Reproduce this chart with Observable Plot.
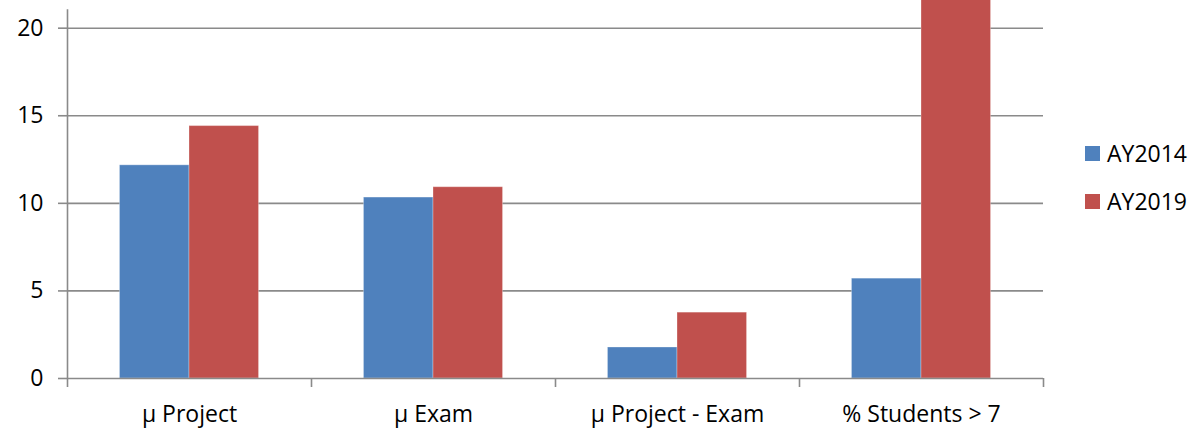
<!DOCTYPE html>
<html>
<head>
<meta charset="utf-8">
<script src="https://cdn.jsdelivr.net/npm/d3@7"></script>
<script src="https://cdn.jsdelivr.net/npm/@observablehq/plot@0.6"></script>
<style>
  body { margin: 0; background: #fff; font-family: "Open Sans", sans-serif; }
  #wrap { position: relative; width: 1191px; height: 429px; overflow: hidden; }
  #legend { position: absolute; left: 1085px; top: 139px; }
  .item { display: flex; align-items: center; height: 28px; margin-bottom: 20px; font-size: 23px; color: #000; }
  .swatch { width: 15px; height: 15px; margin-right: 7px; }
</style>
</head>
<body>
<div id="wrap">
  <div id="chart"></div>
  <div id="legend"></div>
</div>
<script>
// Categories and the two academic-year series
const categories = ["μ Project", "μ Exam", "μ Project - Exam", "% Students > 7"];
const seriesNames = ["AY2014", "AY2019"];
const ay2014 = [12.17, 10.33, 1.77, 5.70];
const ay2019 = [14.41, 10.92, 3.76, 24];
const yTicks = [0, 5, 10, 15, 20];
const seriesColors = ["#4F81BD", "#C0504D"];

// Visible value range and the top of the drawn value axis line
const yMax = 21.58;
const axisTop = 21.05;
// Width of one bar, as a fraction of a category slot
const barWidth = 0.285;

const rows = [];
[ay2014, ay2019].forEach((values, s) => {
  values.forEach((v, i) => {
    const center = i + 0.5;
    rows.push({
      series: seriesNames[s],
      x1: s === 0 ? center - barWidth : center,
      x2: s === 0 ? center : center + barWidth,
      value: v
    });
  });
});

const boundaries = d3.range(categories.length + 1);
const centers = categories.map((d, i) => i + 0.5);
const gray = "#8a8a8a";

const chart = Plot.plot({
  width: 1191,
  height: 429,
  marginLeft: 67,
  marginRight: 148,
  marginTop: 0,
  marginBottom: 51,
  style: { fontFamily: "Open Sans, sans-serif", fontSize: "23px", color: "#000", background: "#fff" },
  x: { type: "linear", domain: [0, categories.length] },
  y: { domain: [0, yMax] },
  color: { domain: seriesNames, range: seriesColors },
  marks: [
    Plot.gridY(yTicks.filter(d => d > 0), { stroke: gray, strokeOpacity: 1, strokeWidth: 1.6 }),
    Plot.rectY(rows, {
      x1: "x1", x2: "x2", y1: 0, y2: "value",
      fill: "series", stroke: "#fff", strokeOpacity: 0.3, strokeWidth: 1,
      clip: true
    }),
    Plot.ruleY([0], { stroke: gray, strokeWidth: 1.6 }),
    Plot.ruleX([0], { y1: 0, y2: axisTop, stroke: gray, strokeWidth: 1.6 }),
    Plot.axisY(yTicks, {
      tickSize: 9, tickPadding: 15, stroke: gray, strokeWidth: 1.6,
      fontSize: 23, fill: "#000", label: null
    }),
    Plot.axisX(boundaries, {
      tickSize: 9, stroke: gray, strokeWidth: 1.6, tickFormat: () => "", label: null
    }),
    Plot.axisX(centers, {
      tickSize: 0, tickPadding: 27, fontSize: 23, fill: "#000",
      tickFormat: d => categories[Math.floor(d)], label: null
    })
  ]
});
document.getElementById("chart").append(chart);

// Series legend on the right
const legend = d3.select("#legend");
seriesNames.forEach((name, i) => {
  const item = legend.append("div").attr("class", "item");
  item.append("div").attr("class", "swatch").style("background", seriesColors[i]);
  item.append("span").text(name);
});
</script>
</body>
</html>
